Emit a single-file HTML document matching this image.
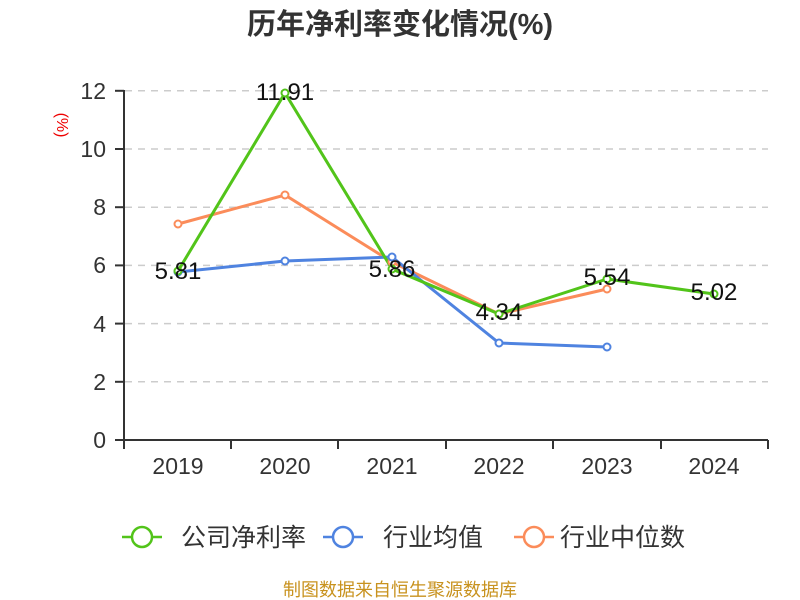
<!DOCTYPE html>
<html><head><meta charset="utf-8"><style>
html,body{margin:0;padding:0;background:#fff}
svg{display:block;font-family:"Liberation Sans","Noto Sans CJK SC",sans-serif}
</style></head><body>
<svg width="800" height="600" viewBox="0 0 800 600">
<text x="400" y="34" text-anchor="middle" font-size="29" font-weight="bold" fill="#333">历年净利率变化情况(%)</text>
<text transform="translate(57,125) rotate(90)" text-anchor="middle" font-size="16" fill="#e00">(%)</text>
<g stroke="#ccc" stroke-width="1.5" stroke-dasharray="7,6">
<line x1="125" x2="768" y1="90.8" y2="90.8"/><line x1="125" x2="768" y1="149" y2="149"/>
<line x1="125" x2="768" y1="207.2" y2="207.2"/><line x1="125" x2="768" y1="265.4" y2="265.4"/>
<line x1="125" x2="768" y1="323.6" y2="323.6"/><line x1="125" x2="768" y1="381.8" y2="381.8"/>
</g>
<g stroke="#333" stroke-width="2" fill="none">
<line x1="124" y1="90" x2="124" y2="441"/>
<line x1="115" x2="124" y1="90.8" y2="90.8"/><line x1="115" x2="124" y1="149" y2="149"/>
<line x1="115" x2="124" y1="207.2" y2="207.2"/><line x1="115" x2="124" y1="265.4" y2="265.4"/>
<line x1="115" x2="124" y1="323.6" y2="323.6"/><line x1="115" x2="124" y1="381.8" y2="381.8"/>
<line x1="115" x2="768" y1="440" y2="440"/>
<line x1="124" x2="124" y1="440" y2="449"/><line x1="231" x2="231" y1="440" y2="449"/>
<line x1="338" x2="338" y1="440" y2="449"/><line x1="446" x2="446" y1="440" y2="449"/>
<line x1="553" x2="553" y1="440" y2="449"/><line x1="661" x2="661" y1="440" y2="449"/>
<line x1="768" x2="768" y1="440" y2="449"/>
</g>
<g font-size="23" fill="#333" text-anchor="end">
<text x="106" y="99">12</text><text x="106" y="157">10</text><text x="106" y="215">8</text>
<text x="106" y="273">6</text><text x="106" y="332">4</text><text x="106" y="390">2</text><text x="106" y="448">0</text>
</g>
<g font-size="23" fill="#333" text-anchor="middle">
<text x="178" y="474">2019</text><text x="285" y="474">2020</text><text x="392" y="474">2021</text>
<text x="499" y="474">2022</text><text x="607" y="474">2023</text><text x="714" y="474">2024</text>
</g>
<g fill="none" stroke-width="3">
<polyline stroke="#fb8c5a" points="178,224 285,195 392,262 499,314 607,289"/>
<polyline stroke="#4f83e0" points="178,272 285,261 392,257 499,343 607,347"/>
<polyline stroke="#52c41a" points="178,271 285,93 392,269 499,314 607,279 714,294"/>
</g>
<g fill="#fff" stroke-width="2">
<g stroke="#fb8c5a"><circle cx="178" cy="224" r="3.5"/><circle cx="285" cy="195" r="3.5"/><circle cx="392" cy="262" r="3.5"/><circle cx="499" cy="314" r="3.5"/><circle cx="607" cy="289" r="3.5"/></g>
<g stroke="#4f83e0"><circle cx="178" cy="272" r="3.5"/><circle cx="285" cy="261" r="3.5"/><circle cx="392" cy="257" r="3.5"/><circle cx="499" cy="343" r="3.5"/><circle cx="607" cy="347" r="3.5"/></g>
<g stroke="#52c41a"><circle cx="178" cy="271" r="3.5"/><circle cx="285" cy="93" r="3.5"/><circle cx="392" cy="269" r="3.5"/><circle cx="499" cy="314" r="3.5"/><circle cx="607" cy="279" r="3.5"/><circle cx="714" cy="294" r="3.5"/></g>
</g>
<g font-size="24" fill="#111" text-anchor="middle">
<text x="178" y="279">5.81</text><text x="285" y="100">11.91</text><text x="392" y="277">5.86</text>
<text x="499" y="320">4.34</text><text x="607" y="285">5.54</text><text x="714" y="300">5.02</text>
</g>
<g stroke-width="2.5" fill="#fff">
<line x1="122" x2="162" y1="537" y2="537" stroke="#52c41a"/><circle cx="142" cy="537" r="10" stroke="#52c41a"/>
<line x1="323" x2="363" y1="537" y2="537" stroke="#4f83e0"/><circle cx="343" cy="537" r="10" stroke="#4f83e0"/>
<line x1="514" x2="554" y1="537" y2="537" stroke="#fb8c5a"/><circle cx="534" cy="537" r="10" stroke="#fb8c5a"/>
</g>
<g font-size="25" fill="#333">
<text x="181" y="546">公司净利率</text><text x="383" y="546">行业均值</text><text x="560" y="546">行业中位数</text>
</g>
<text x="400" y="596" text-anchor="middle" font-size="18" fill="#c8921e">制图数据来自恒生聚源数据库</text>
</svg>
</body></html>
